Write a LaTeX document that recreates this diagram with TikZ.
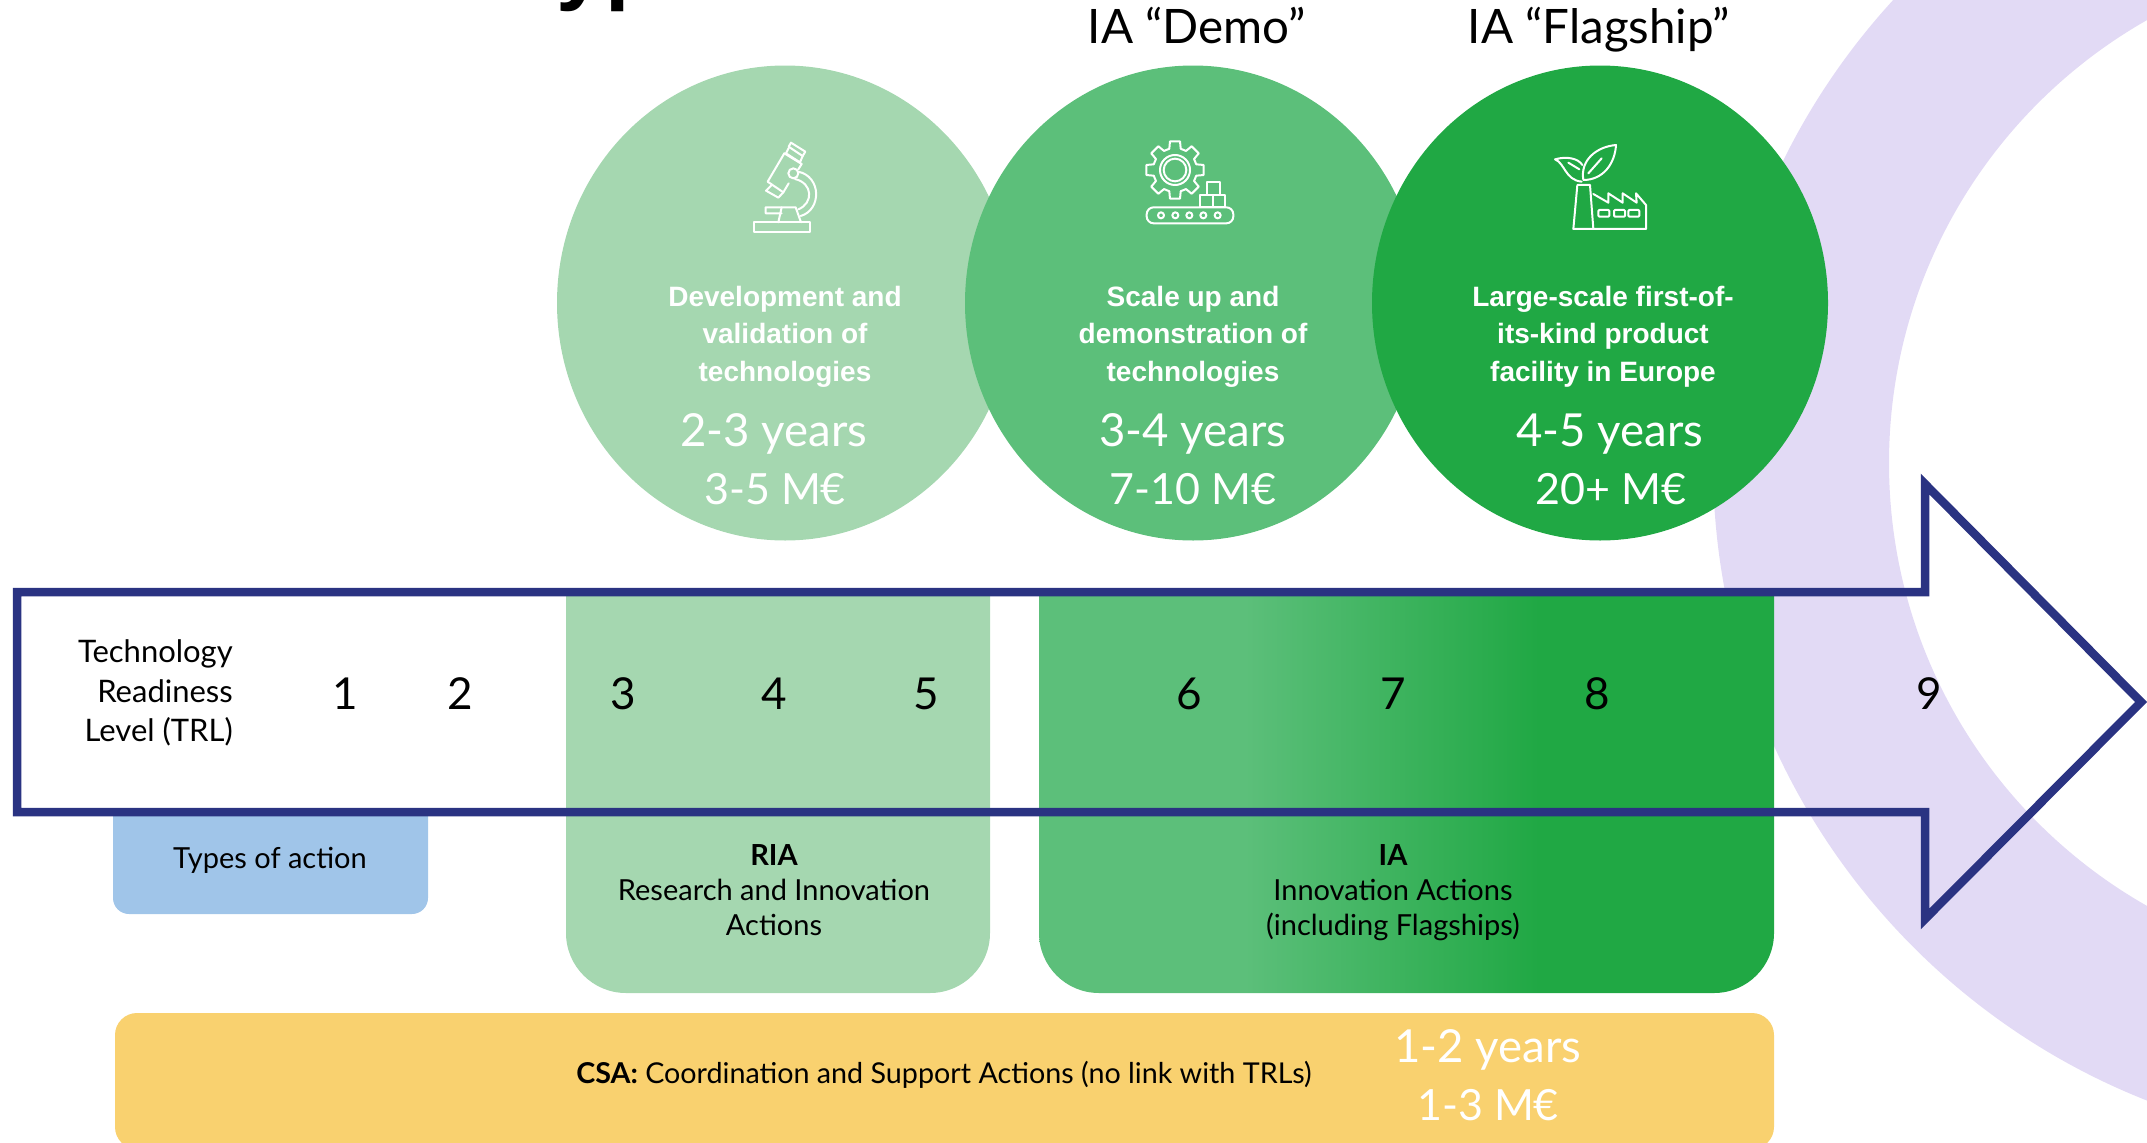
\documentclass[tikz,border=0pt]{standalone}
\usepackage{fontspec}
\usetikzlibrary{shapes.geometric}
\setmainfont{Lato}
\newfontfamily\circfont{Liberation Sans}
\newcommand{\fsz}[1]{\fontsize{#1}{#1}\selectfont}
\definecolor{ringc}{HTML}{E2DAF5}
\definecolor{gone}{HTML}{A5D7B0}
\definecolor{gtwo}{HTML}{5CBF7A}
\definecolor{gthree}{HTML}{20A844}
\definecolor{bluebox}{HTML}{A0C5E9}
\definecolor{yellowbox}{HTML}{F9D16F}
\definecolor{navy}{HTML}{2A3382}
\pgfdeclarehorizontalshading{iagrad}{100bp}{color(0bp)=(gtwo); color(39bp)=(gtwo); color(59bp)=(gthree); color(100bp)=(gthree)}
\tikzset{
  blob/.style={ellipse,minimum width=456pt,minimum height=475pt,inner sep=0pt},
  lab/.style={inner sep=0pt,anchor=base,align=center,text=black,font=\fsz{29}},
  trl/.style={inner sep=0pt,anchor=base east,text=black,font=\fsz{31}},
  num/.style={inner sep=0pt,anchor=base,text=black,font=\fsz{44}},
  head/.style={inner sep=0pt,anchor=base,text=black,font=\fsz{47.5}},
  desc/.style={inner sep=0pt,anchor=base,text=white,font=\circfont\bfseries\fsz{28}},
  years/.style={inner sep=0pt,anchor=base,text=white,font=\fsz{45.5}},
  money/.style={inner sep=0pt,anchor=base,text=white,font=\fsz{43}},
  icon/.style={draw=white,line width=2pt,line join=round,line cap=round},
}
\begin{document}
\begin{tikzpicture}[x=1pt,y=-1pt]
\path[use as bounding box,clip] (0,0) rectangle (2147,1143);
% ring
\fill[ringc,even odd rule] (2398,463) circle (685) (2398,463) circle (509);
% title fragment
\node[inner sep=0pt,anchor=base west,text=black,font=\circfont\bfseries\fsz{88}] (title) at (556,-6) {yp};
% circles
\node[blob,fill=gone] (c1) at (785,303) {};
\node[blob,fill=gtwo] (c2) at (1193,303) {};
\node[blob,fill=gthree] (c3) at (1600,303) {};
% headers
\node[head] (hdemo) at (1197,43.5) {IA “Demo”};
\node[head] (hflag) at (1599,43) {IA “Flagship”};
% boxes
\fill[gone] (566,590) -- (990,590) -- (990,933) arc[start angle=0,end angle=90,radius=60] -- (626,993) arc[start angle=90,end angle=180,radius=60] -- cycle;
\path[shading=iagrad] (1039,590) -- (1774,590) -- (1774,933) arc[start angle=0,end angle=90,radius=60] -- (1099,993) arc[start angle=90,end angle=180,radius=60] -- cycle;
\fill[bluebox] (113,812) -- (428,812) -- (428,898) arc[start angle=0,end angle=90,radius=16] -- (129,914) arc[start angle=90,end angle=180,radius=16] -- cycle;
\fill[yellowbox,rounded corners=22pt] (115,1013) rectangle (1774,1149);
% arrow
\draw[navy,line width=8.5pt,miter limit=10] (17,592) -- (1925,592) -- (1925,484) -- (2141,702) -- (1925,919) -- (1925,812) -- (17,812) -- cycle;
% TRL texts
\node[trl] (t1) at (233,662) {Technology};
\node[trl] (t2) at (233,702) {Readiness};
\node[trl] (t3) at (233,741) {Level (TRL)};
\foreach \n/\x in {1/345,2/460,3/623,4/774,5/926,6/1189,7/1393,8/1597,9/1929}
  \node[num] (n\n) at (\x,709) {\n};
% labels
\node[lab] (types) at (270,868.5) {Types of action};
\node[lab] (ria1) at (774,865.5) {\bfseries RIA};
\node[lab] (ria2) at (774,900.5) {Research and Innovation};
\node[lab] (ria3) at (774,935) {Actions};
\node[lab] (ia1) at (1393,865.5) {\bfseries IA};
\node[lab] (ia2) at (1393,900.5) {Innovation Actions};
\node[lab] (ia3) at (1393,935) {(including Flagships)};
\node[lab,font=\fsz{28.7}] (csa) at (944,1083) {\textbf{CSA:} Coordination and Support Actions (no link with TRLs)};
\node[years] (cy) at (1488,1062) {1-2 years};
\node[money] (cm) at (1488,1120) {1-3 M€};
% circle text
\node[desc] (d11) at (785,306) {Development and};
\node[desc] (d12) at (785,343) {validation of};
\node[desc] (d13) at (785,381) {technologies};
\node[desc] (d21) at (1193,306) {Scale up and};
\node[desc] (d22) at (1193,343) {demonstration of};
\node[desc] (d23) at (1193,381) {technologies};
\node[desc] (d31) at (1603,306) {Large-scale first-of-};
\node[desc] (d32) at (1603,343) {its-kind product};
\node[desc] (d33) at (1603,381) {facility in Europe};
\node[years] (y1) at (774,446) {2-3 years};
\node[money] (m1) at (775,504) {3-5 M€};
\node[years] (y2) at (1193,446) {3-4 years};
\node[money] (m2) at (1193,504) {7-10 M€};
\node[years] (y3) at (1610,446) {4-5 years};
\node[money] (m3) at (1611,504) {20+ M€};
% microscope
\begin{scope}[shift={(730,130)},scale=0.3333]
\draw[icon] (73,277) rectangle (240,305);
\draw[icon] (155,250) -- (107,250) -- (107,232) -- (197,232) -- (213,277);
\draw[icon] (155,232) -- (145,277);
\draw[icon] (163,70) -- (113,155) -- (160,187) -- (176,160);
\draw[icon] (163,70) -- (215,102) -- (205,118);
\draw[icon] (125,165) -- (108,182) -- (145,203) -- (160,187);
\draw[icon] (176,54) -- (168,70) -- (210,97) -- (218,78);
\draw[icon] (183,38) -- (226,65) -- (218,78) -- (176,50) -- cycle;
\draw[icon] (190,130) circle (15);
\draw[icon] (205,125) .. controls (275,140) and (275,240) .. (212,258);
\draw[icon] (195,147) .. controls (250,160) and (250,220) .. (205,238);
\end{scope}
% gear and conveyor
\begin{scope}[shift={(1130,130)},scale=0.3333]
\begin{scope}[shift={(135,120)}]
\draw[icon] (-10:87) \foreach \a in {0,45,...,315} { -- (\a-10:87) -- (\a+10:87) -- (\a+15:66) -- (\a+30:66) } -- cycle;
\draw[icon] (0,0) circle (45);
\draw[icon] (0,0) circle (34);
\end{scope}
\draw[icon,fill=gtwo] (210,195) rectangle (248,232);
\draw[icon,fill=gtwo] (248,195) rectangle (285,232);
\draw[icon,fill=gtwo] (232,157) rectangle (270,195);
\draw[icon,fill=gtwo,rounded corners=7pt] (50,232) rectangle (310,280);
\foreach \x in {93,136,178,220,263} \draw[icon] (\x,256) circle (9);
\end{scope}
% factory
\begin{scope}[shift={(1540,130)},scale=0.3333]
\draw[icon] (100,297) -- (112,165) -- (150,165) -- (160,297);
\draw[icon] (100,297) -- (318,297) -- (318,225) -- (288,190) -- (290,218) -- (248,190) -- (248,218) -- (205,190) -- (205,218) -- (160,192);
\foreach \x in {175,222,265} \draw[icon,rounded corners=1pt] (\x,240) rectangle (\x+33,260);
\draw[icon] (130,150) .. controls (120,90) and (170,50) .. (228,45) .. controls (225,100) and (190,150) .. (130,150) -- cycle;
\draw[icon] (145,130) -- (185,85);
\draw[icon] (125,155) .. controls (75,150) and (75,100) .. (45,88) .. controls (80,78) and (115,85) .. (127,105);
\draw[icon] (85,98) -- (118,118);
\end{scope}
\end{tikzpicture}
\end{document}
